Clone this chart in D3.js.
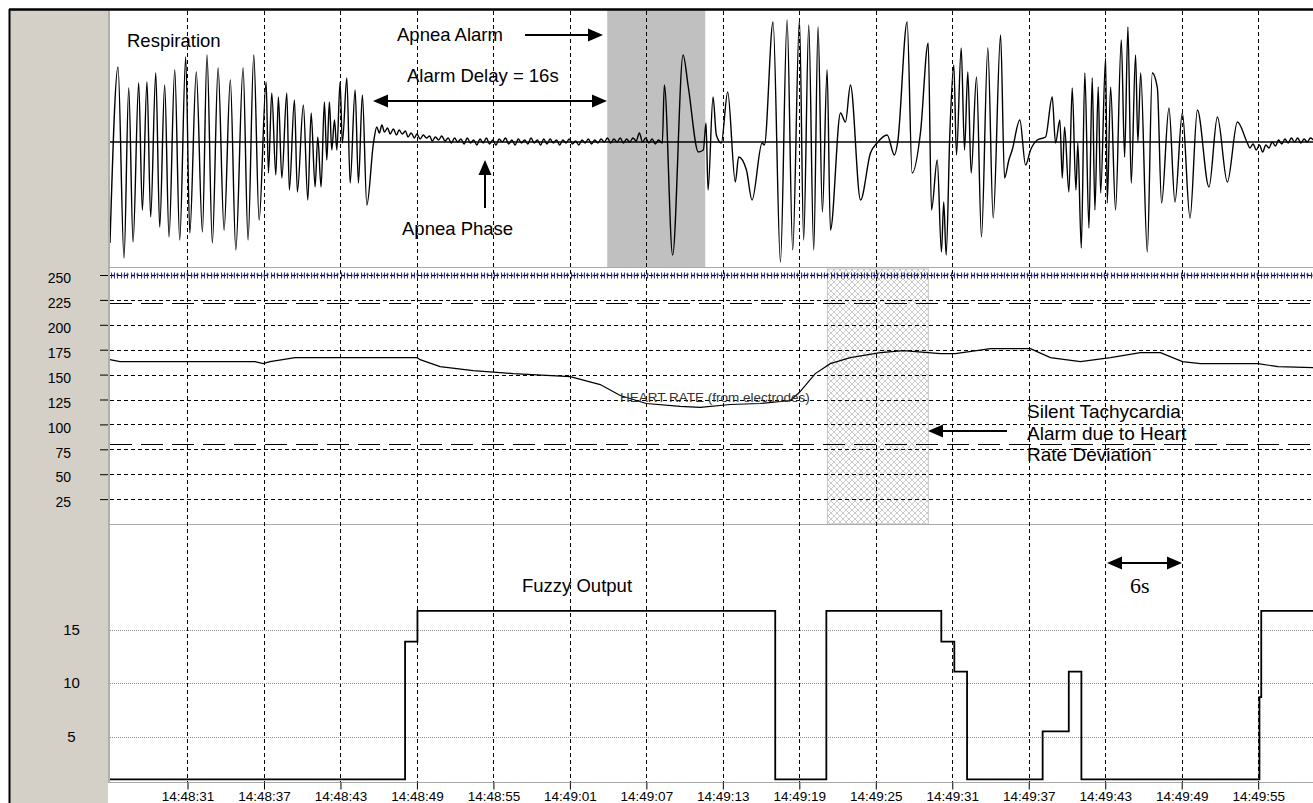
<!DOCTYPE html>
<html><head><meta charset="utf-8">
<script src="https://cdn.jsdelivr.net/npm/d3@7"></script>
<style>
body{margin:0;background:#fff;}
svg{display:block;font-family:"Liberation Sans",Arial,sans-serif;}
</style>
</head><body>
<svg id="c" width="1313" height="803"></svg>
<script>
// ---- data (time in seconds after 14:48:00) ----
const tickTimes = [31,37,43,49,55,61,67,73,79,85,91,97,103,109,115];
const tickLabels = ["14:48:31","14:48:37","14:48:43","14:48:49","14:48:55","14:49:01","14:49:07","14:49:13","14:49:19","14:49:25","14:49:31","14:49:37","14:49:43","14:49:49","14:49:55"];
const hrTicks = [25,50,75,100,125,150,175,200,225,250];
const hrLimits = [221.5,80];
const fuzzyTicks = [5,10,15];
const apneaAlarm = [63.93,71.62];
const tachyAlarm = [81.2,89.12];

const heartRate = [
 [24.92,165],[25.70,163],[36.30,163],[36.93,161],[37.48,163],[39.44,167],[49.02,167],[49.25,165],
 [50.82,158],[53.41,154],[56.55,151],[61.03,148],[63.38,140],[64.95,129],[66.99,121],[69.66,118],
 [71.23,117],[73.58,120],[75.94,121],[78.29,124],[79.00,132],[80.25,151],[81.43,161],[83.00,167],
 [85.36,172],[87.16,174],[90.07,171],[91.24,171],[93.99,176],[97.13,176],[98.70,167],[101.05,163],
 [103.41,167],[105.76,172],[107.33,172],[109.06,163],[110.47,161],[114.98,161],[116.55,158],[119.34,157]
];

const fuzzyOutput = [
 [24.92,1],[48.07,13.9],[49.04,16.8],[77.11,1],[81.12,16.8],[90.14,13.9],[91.16,11.1],[92.16,1],
 [98.09,5.5],[100.14,11.1],[101.13,1],[115.1,8.7],[115.24,16.8],[119.4,16.8]
];

const respiration = [
 [24.92,-101],[25.55,75],[26.02,-116],[26.39,54],[26.73,-100],[27.17,59],[27.46,-68],[27.82,60],
 [28.11,-75],[28.51,69],[28.82,-85],[29.21,57],[29.55,-95],[30.00,72],[30.39,-98],[30.86,85],
 [31.18,-91],[31.69,70],[32.17,-90],[32.53,87],[32.95,-101],[33.40,74],[33.87,-88],[34.36,62],
 [34.79,-108],[35.36,74],[35.75,-98],[36.20,87],[36.62,-78],[37.17,60],[37.35,-31],[37.61,49],
 [37.93,-33],[38.13,45],[38.40,-36],[38.79,49],[38.99,-48],[39.39,42],[39.62,-50],[40.09,37],
 [40.44,-58],[40.70,29],[41.01,-45],[41.22,5],[41.48,-45],[41.74,40],[41.93,-18],[42.13,40],
 [42.32,-8],[42.53,22],[42.72,-8],[42.97,60],[43.15,-1],[43.50,64],[43.76,-41],[44.15,52],
 [44.41,-41],[44.72,47],[45.07,-63],[45.59,-1],[45.85,15],
 [46.05,9],[46.25,17],[46.45,10],[46.7,14],[46.9,8],[47.15,13],[47.4,7],[47.6,12],[47.85,8],[48.1,11],
 [48.3,5],[48.55,9],[48.8,4],[49.0,8],[49.25,3],[49.5,7],[49.75,4],[50.0,6],[50.2,1],[50.45,5],
 [50.7,2],[50.95,6],[51.2,1],[51.45,4],[51.7,-1],[51.95,4],[52.2,0],[52.45,3],[52.7,-2],[52.95,4],
 [53.2,-1],[53.45,2],[53.7,-3],[53.95,3],[54.2,-1],[54.45,4],[54.7,-2],[54.95,2],[55.2,-3],[55.45,3],
 [55.7,0],[55.95,4],[56.2,-2],[56.45,2],[56.7,-3],[56.95,3],[57.2,-1],[57.45,2],[57.7,-2],[57.95,4],
 [58.2,-1],[58.45,2],[58.7,-3],[58.95,3],[59.2,-2],[59.45,3],[59.7,-1],[59.95,2],[60.2,-3],[60.45,2],
 [60.7,-1],[60.95,3],[61.2,-2],[61.45,1],[61.7,-3],[61.95,2],[62.2,-1],[62.45,3],[62.7,-2],[62.95,2],
 [63.2,-1],[63.45,3],[63.7,0],[63.95,4],[64.2,-1],[64.45,3],[64.7,0],[64.95,4],[65.2,-1],[65.45,3],
 [65.7,0],[65.95,4],[66.2,1],[66.45,9],[66.7,0],[66.95,4],[67.2,-1],[67.45,3],[67.7,-2],[67.95,2],[68.25,-1],
 [68.41,57],[69.06,-113],[69.88,87],[70.29,55],[71.08,-10],[71.47,-8],[71.68,19],[71.84,-48],
 [72.23,45],[72.49,7],[72.88,-1],[73.38,50],[73.98,-40],[74.24,-15],[74.85,-28],[75.29,-58],
 [76.08,-1],[76.26,-3],[76.94,120],[77.52,-120],[78.04,122],[78.48,-108],[79.01,122],[79.34,-98],
 [79.74,117],[80.13,-108],[80.47,115],[80.81,-70],[81.18,72],[81.44,-88],[82.23,29],[82.62,20],
 [83.01,57],[83.80,-58],[84.58,-11],[85.10,-1],[85.89,7],[86.46,-13],[86.72,0],[87.46,120],
 [87.85,-31],[88.51,10],[89.11,99],[89.37,-68],[89.82,-18],[90.15,-110],[90.33,-60],[90.52,-113],
 [90.81,9],[91.12,77],[91.33,-13],[91.70,94],[91.96,-8],[92.22,70],[92.48,-31],[92.90,65],
 [93.29,-95],[93.79,94],[94.21,-76],[94.79,107],[95.10,-36],[95.44,-18],[95.70,-8],[96.30,22],
 [96.75,-23],[97.14,-8],[97.67,2],[98.32,5],[98.84,45],[99.10,-1],[99.44,22],[99.63,-36],
 [99.81,15],[100.15,-50],[100.41,54],[100.70,-48],[100.85,-1],[101.12,-106],[101.40,69],[101.72,-86],
 [101.98,64],[102.19,-68],[102.45,55],[102.64,-51],[103.03,84],[103.16,-61],[103.42,55],[103.81,-68],
 [104.26,102],[104.52,-15],[104.78,115],[105.04,-41],[105.38,87],[105.56,0],[105.78,69],[106.30,-110],
 [106.69,69],[107.09,54],[107.42,-61],[108.00,34],[108.47,-60],[109.05,29],[109.65,-76],[110.23,32],
 [111.14,-45],[111.80,25],[112.58,-40],[113.37,20],[114.15,-1],
 [114.35,-6],[114.6,-2],[114.85,-8],[115.1,-3],[115.35,-10],[115.6,-3],[115.85,-6],[116.1,0],[116.35,-4],
 [116.6,2],[116.85,-2],[117.1,3],[117.35,-1],[117.6,4],[117.85,0],[118.1,4],[118.35,-1],[118.6,3],
 [118.85,0],[119.1,4],[119.4,1]
];

// ---- layout ----
const svg = d3.select("#c");
const L = 110, R = 1313;
const top1 = 10, bot1 = 267, top2 = 268, bot2 = 524, top3 = 525, bot3 = 782;

const x = d3.scaleLinear().domain([24.92,119.3]).range([L,R]);
const yR = d3.scaleLinear().domain([-125,125]).range([267,17]);
const yH = d3.scaleLinear().domain([0,250]).range([524,275]);
const yF = d3.scaleLinear().domain([0,25]).range([790,523.3]);

const defs = svg.append("defs");
const hatch = defs.append("pattern").attr("id","hatch").attr("patternUnits","userSpaceOnUse")
  .attr("width",6).attr("height",6);
hatch.append("path").attr("d","M0,0L6,6M6,0L0,6M-1,5L1,7M5,-1L7,1")
  .attr("stroke","#b4b4b4").attr("stroke-width",0.7).attr("fill","none");
const beats = defs.append("pattern").attr("id","beats").attr("patternUnits","userSpaceOnUse")
  .attr("width",10).attr("height",8).attr("x",L).attr("y",271.5);
beats.append("path").attr("d","M1.5,1V7M4.5,1V7M1.5,4H4.5M7.5,1.5V7M6,3H9")
  .attr("stroke","#1a1a8c").attr("stroke-width",0.9).attr("fill","none");
defs.append("clipPath").attr("id","clipTop").append("rect")
  .attr("x",L).attr("y",top1).attr("width",R-L).attr("height",bot1-top1);

// background
svg.append("rect").attr("width",1313).attr("height",803).attr("fill","#fff");
svg.append("rect").attr("x",10).attr("y",10).attr("width",98).attr("height",793).attr("fill","#d4d0c8");

// alarm boxes
svg.append("rect").attr("x",x(apneaAlarm[0])).attr("y",top1).attr("width",x(apneaAlarm[1])-x(apneaAlarm[0]))
  .attr("height",bot1-top1).attr("fill","#c0c0c0");
svg.append("rect").attr("x",x(tachyAlarm[0])).attr("y",top2+1).attr("width",x(tachyAlarm[1])-x(tachyAlarm[0]))
  .attr("height",bot2-top2-1).attr("fill","url(#hatch)").attr("stroke","#c4c4c4");

// panel borders
svg.append("line").attr("x1",109).attr("x2",109).attr("y1",10).attr("y2",783).attr("stroke","#b0b0b0").attr("stroke-width",2);
[bot1+0.5,bot2+0.5,bot3+0.5].forEach(yy=>{
  svg.append("line").attr("x1",108).attr("x2",R).attr("y1",yy).attr("y2",yy).attr("stroke","#a8a8a8");
});

// vertical grid
svg.append("g").selectAll("line").data(tickTimes).join("line")
  .attr("x1",d=>Math.round(x(d))+0.5).attr("x2",d=>Math.round(x(d))+0.5)
  .attr("y1",11).attr("y2",bot3)
  .attr("stroke","#000").attr("stroke-dasharray","4,3");

// HR horizontal grid + axis
svg.append("g").selectAll("line").data(hrTicks).join("line")
  .attr("x1",L).attr("x2",R).attr("y1",d=>Math.round(yH(d))+0.5).attr("y2",d=>Math.round(yH(d))+0.5)
  .attr("stroke","#000").attr("stroke-dasharray","4,3");
svg.append("g").selectAll("line").data(hrLimits).join("line")
  .attr("x1",L).attr("x2",R).attr("y1",d=>Math.round(yH(d))+0.5).attr("y2",d=>Math.round(yH(d))+0.5)
  .attr("stroke","#000").attr("stroke-dasharray","22,9");
const hrAxis = svg.append("g").attr("transform","translate(108,0)")
  .call(d3.axisLeft(yH).tickValues(hrTicks).tickSize(8).tickPadding(29));
hrAxis.select(".domain").remove();
hrAxis.selectAll("line").attr("stroke","#000");
hrAxis.selectAll("text").attr("font-size",14).attr("font-family","Liberation Sans, Arial, sans-serif")
  .attr("fill","#000").attr("dy","0.55em");

// fuzzy grid + labels
svg.append("g").selectAll("line").data(fuzzyTicks).join("line")
  .attr("x1",L).attr("x2",R).attr("y1",d=>Math.round(yF(d))+0.5).attr("y2",d=>Math.round(yF(d))+0.5)
  .attr("stroke","#8a8a8a").attr("stroke-dasharray","1,1");
svg.append("g").selectAll("text").data(fuzzyTicks).join("text")
  .attr("x",71.5).attr("y",d=>yF(d)+1).attr("text-anchor","middle").attr("dominant-baseline","middle")
  .attr("font-size",15).text(d=>d);

// beat markers
svg.append("rect").attr("x",L+1).attr("y",271.5).attr("width",R-L).attr("height",8).attr("fill","url(#beats)");

// respiration
svg.append("line").attr("x1",L).attr("x2",R).attr("y1",yR(0)).attr("y2",yR(0)).attr("stroke","#000").attr("stroke-width",1.3);
svg.append("path").datum(respiration).attr("clip-path","url(#clipTop)")
  .attr("d",d3.line().curve(d3.curveMonotoneX).x(d=>x(d[0])).y(d=>yR(d[1])))
  .attr("fill","none").attr("stroke","#000").attr("stroke-width",1.4).attr("stroke-linejoin","round");

// heart rate
svg.append("path").datum(heartRate)
  .attr("d",d3.line().x(d=>x(d[0])).y(d=>yH(d[1])))
  .attr("fill","none").attr("stroke","#000").attr("stroke-width",1.2);

// fuzzy output
svg.append("path").datum(fuzzyOutput)
  .attr("d",d3.line().curve(d3.curveStepAfter).x(d=>x(d[0])).y(d=>yF(d[1])))
  .attr("fill","none").attr("stroke","#000").attr("stroke-width",1.8);

// x axis
const xa = svg.append("g").attr("transform",`translate(0,${bot3+0.5})`)
  .call(d3.axisBottom(x).tickValues(tickTimes).tickFormat((d,i)=>tickLabels[i]).tickSize(7).tickPadding(2));
xa.select(".domain").remove();
xa.selectAll("line").attr("stroke","#000");
xa.selectAll("text").attr("font-size",13.5).attr("font-family","Liberation Sans, Arial, sans-serif").attr("fill","#000");

// outer frame
svg.append("line").attr("x1",9).attr("x2",1313).attr("y1",9.5).attr("y2",9.5).attr("stroke","#000").attr("stroke-width",2.5);
svg.append("line").attr("x1",9.5).attr("x2",9.5).attr("y1",9).attr("y2",803).attr("stroke","#000").attr("stroke-width",2);

// annotations
function arrow(x1,y1,x2,y2){
  const g = svg.append("g");
  const ang = Math.atan2(y2-y1,x2-x1), hl=15, hw=6.5;
  const bx = x2-hl*Math.cos(ang), by = y2-hl*Math.sin(ang);
  g.append("line").attr("x1",x1).attr("y1",y1).attr("x2",bx).attr("y2",by).attr("stroke","#000").attr("stroke-width",2);
  g.append("path").attr("d",`M${x2},${y2}L${bx-hw*Math.sin(ang)},${by+hw*Math.cos(ang)}L${bx+hw*Math.sin(ang)},${by-hw*Math.cos(ang)}Z`).attr("fill","#000");
}
function label(t,xx,yy,fs,fam){
  svg.append("text").attr("x",xx).attr("y",yy).attr("font-size",fs).attr("fill","#000")
    .attr("font-family",fam||"Liberation Sans, Arial, sans-serif").text(t);
}
label("Respiration",127,46.5,18.5);
label("Apnea Alarm",397,40.5,18.5);
arrow(525,35,603,35);
label("Alarm Delay = 16s",407,82,18.5);
arrow(390,101,373,101); arrow(390,101,607,101);
label("Apnea Phase",402,235,18.5);
arrow(485,208,485,160);
svg.append("text").attr("x",620).attr("y",402).attr("font-size",13.5).attr("fill","#333").text("HEART RATE (from electrodes)");
label("Silent Tachycardia",1027,418,19);
label("Alarm due to Heart",1027,439.5,19);
label("Rate Deviation",1027,461,19);
arrow(1007,431,928,431);
label("Fuzzy Output",522,592,18.5);
arrow(1140,563,1107,563); arrow(1140,563,1182,563);
label("6s",1130,593,22,"Liberation Serif, Times New Roman, serif");
</script>
</body></html>
